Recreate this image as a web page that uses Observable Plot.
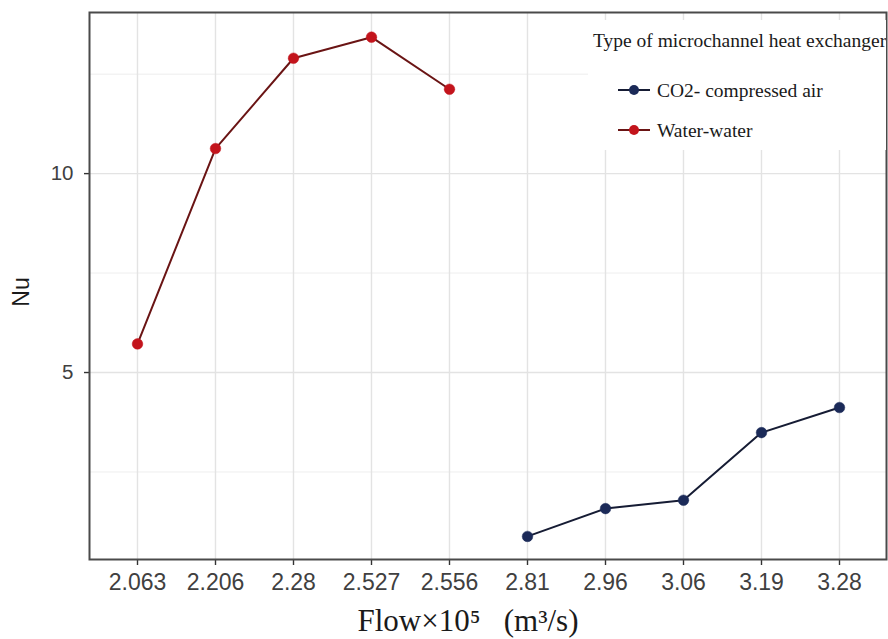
<!DOCTYPE html>
<html>
<head>
<meta charset="utf-8">
<script src="https://cdn.jsdelivr.net/npm/d3@7"></script>
<script src="https://cdn.jsdelivr.net/npm/@observablehq/plot@0.6"></script>
<style>
  html, body { margin: 0; padding: 0; background: #fff; }
  #wrap { position: relative; width: 888px; height: 639px; }
  #wrap svg.plot { font-family: "Liberation Sans", Arial, sans-serif; }
  g[aria-label="x-axis tick label"] { font-size: 23px; fill: #404040; }
  g[aria-label="y-axis tick label"] { font-size: 20.5px; fill: #404040; }
  g[aria-label="x-axis label"] { font-family: "Liberation Serif", "Times New Roman", serif; font-size: 31px; fill: #1a1a1a; }
  g[aria-label="y-axis label"] { font-size: 23px; fill: #1a1a1a; }
  #legend { position: absolute; left: 588px; top: 20px; width: 298px; height: 130px; overflow: hidden; }
  #legend text { font-family: "Liberation Serif", "Times New Roman", serif; fill: #1a1a1a; }
</style>
</head>
<body>
<div id="wrap"></div>
<script>
// ---- data ----
const flowLabels = ["2.063","2.206","2.28","2.527","2.556","2.81","2.96","3.06","3.19","3.28"];
const waterFlow = ["2.063","2.206","2.28","2.527","2.556"];
const waterNu = [5.72, 10.63, 12.90, 13.43, 12.12];
const co2Flow = ["2.81","2.96","3.06","3.19","3.28"];
const co2Nu = [0.88, 1.58, 1.79, 3.49, 4.12];
const seriesNames = ["CO2- compressed air", "Water-water"];
const pointColors = ["#1b2a58", "#c3141c"];
const lineColors = ["#161c34", "#6a1414"];
const yTicks = [5, 10];
const yMinorTicks = [2.5, 7.5, 12.5];
const legendTitle = "Type of microchannel heat exchanger";
const xTitle = "Flow\u00d710\u2075   (m\u00b3/s)";
const yTitle = "Nu";

const co2Rows = co2Flow.map((f, i) => ({flow: f, nu: co2Nu[i], series: seriesNames[0]}));
const waterRows = waterFlow.map((f, i) => ({flow: f, nu: waterNu[i], series: seriesNames[1]}));

const chart = Plot.plot({
  width: 888,
  height: 639,
  marginLeft: 89,
  marginRight: 2,
  marginTop: 12,
  marginBottom: 80,
  style: {background: "#fff"},
  x: {type: "point", domain: flowLabels, padding: 0.576},
  y: {domain: [0.3, 14.05]},
  marks: [
    Plot.gridY(yMinorTicks, {stroke: "#ececec", strokeOpacity: 1, strokeWidth: 0.9}),
    Plot.gridY(yTicks, {stroke: "#e3e3e3", strokeOpacity: 1, strokeWidth: 1.4}),
    Plot.gridX(flowLabels, {stroke: "#e3e3e3", strokeOpacity: 1, strokeWidth: 1.4}),
    Plot.axisY(yTicks, {tickSize: 5, tickPadding: 11, stroke: "#333", strokeWidth: 1.4,
      label: yTitle, labelAnchor: "center", labelOffset: 77, labelArrow: "none"}),
    Plot.axisX(flowLabels, {tickSize: 6, tickPadding: 8, stroke: "#333", strokeWidth: 1.4,
      label: xTitle, labelAnchor: "center", labelOffset: 71, labelArrow: "none"}),
    Plot.line(co2Rows, {x: "flow", y: "nu", stroke: lineColors[0], strokeWidth: 2}),
    Plot.line(waterRows, {x: "flow", y: "nu", stroke: lineColors[1], strokeWidth: 2}),
    Plot.dot(co2Rows, {x: "flow", y: "nu", r: 5.3, fill: pointColors[0], stroke: pointColors[0], strokeWidth: 0.5}),
    Plot.dot(waterRows, {x: "flow", y: "nu", r: 5.3, fill: pointColors[1], stroke: pointColors[1], strokeWidth: 0.5}),
    Plot.frame({stroke: "#4a4a4a", strokeWidth: 2})
  ]
});
chart.classList.add("plot");
document.getElementById("wrap").appendChild(chart);

// nudge axis titles to where the reference has them
function nudge(sel, dx, dy) {
  d3.select(chart).selectAll(sel).each(function () {
    const t = this.getAttribute("transform") || "";
    this.setAttribute("transform", (t + ` translate(${dx},${dy})`).trim());
  });
}
nudge('g[aria-label="x-axis label"]', -20, 0);
nudge('g[aria-label="y-axis label"]', 0, 6);

// ---- legend (inside top-right of panel) ----
const legend = d3.select("#wrap").append("svg")
  .attr("id", "legend").attr("width", 298).attr("height", 130);
legend.append("rect").attr("width", 298).attr("height", 130).attr("fill", "#fff");
legend.append("text").attr("x", 5).attr("y", 27).attr("font-size", 19.5).text(legendTitle);
seriesNames.forEach((name, i) => {
  const cy = 70 + i * 40;
  legend.append("line").attr("x1", 30).attr("x2", 62).attr("y1", cy).attr("y2", cy)
    .attr("stroke", lineColors[i]).attr("stroke-width", 2);
  legend.append("circle").attr("cx", 46).attr("cy", cy).attr("r", 5).attr("fill", pointColors[i]);
  legend.append("text").attr("x", 69).attr("y", cy + 7).attr("font-size", 19.5).text(name);
});
</script>
</body>
</html>
